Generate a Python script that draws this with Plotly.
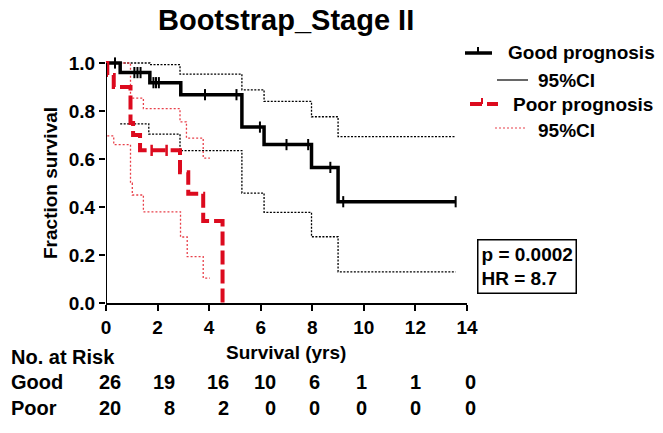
import numpy as np
import plotly.graph_objects as go

# ---------------- data ----------------
good_t = [0.0, 0.55, 1.70, 2.90, 5.27, 6.13, 7.97, 9.00]
good_s = [1.0, 0.960, 0.918, 0.868, 0.733, 0.660, 0.565, 0.422]
good_end = 13.56
good_cens = [0.35, 1.10, 1.22, 1.34, 1.84, 1.94, 2.05, 3.84, 5.06, 5.97, 7.00, 7.84, 8.70, 9.20, 13.56]

good_up_t = [0.55, 1.70, 2.87, 5.27, 6.13, 7.97, 9.00]
good_up_s = [1.0, 0.993, 0.954, 0.888, 0.840, 0.776, 0.693]
good_lo_t = [0.55, 1.66, 2.87, 5.27, 6.13, 7.97, 9.00]
good_lo_s = [0.746, 0.704, 0.635, 0.458, 0.378, 0.276, 0.130]

poor_t = [0.0, 0.05, 0.30, 0.95, 1.05, 1.32, 2.87, 3.19, 3.77, 4.52]
poor_s = [1.0, 0.95, 0.90, 0.75, 0.70, 0.636, 0.545, 0.455, 0.342, 0.0]
poor_cens = [1.77, 2.35]

poor_up_t = [0.05, 0.95, 1.45, 2.87, 3.12, 3.77]
poor_up_s = [1.0, 0.854, 0.810, 0.755, 0.687, 0.604]
poor_lo_t = [0.05, 0.30, 0.95, 1.02, 1.45, 2.89, 3.15, 3.77]
poor_lo_s = [0.696, 0.660, 0.500, 0.450, 0.380, 0.275, 0.193, 0.104]
poor_ci_end = 4.03

x_ticks = [0, 2, 4, 6, 8, 10, 12, 14]
y_ticks = [0.0, 0.2, 0.4, 0.6, 0.8, 1.0]
y_tick_labels = ["0.0", "0.2", "0.4", "0.6", "0.8", "1.0"]

risk_good = [26, 19, 16, 10, 6, 1, 1, 0]
risk_poor = [20, 8, 2, 0, 0, 0, 0, 0]

p_text = "p = 0.0002"
hr_text = "HR = 8.7"

# ---------------- layout geometry (pixels) ----------------
W, H = 663, 433
L, R_, T, B = 106, 467, 58, 303
FONT = "Liberation Sans, Arial, Helvetica, sans-serif"
RED = "#dc0a1e"
RED_CI = "#e8404a"


def px(x):
    return (x - L) / (R_ - L)


def py(y):
    return (B - y) / (B - T)


def extend(t, s, end):
    return list(t) + [end], list(s) + [s[-1]]


def level_at(t, s, tc):
    idx = np.searchsorted(np.array(t), np.array(tc), side="right") - 1
    return list(np.array(s)[idx])


fig = go.Figure()

ci_black = dict(color="black", width=1.3, dash="2px,1.5px")
ci_red = dict(color=RED_CI, width=1.3, dash="2px,2px")

for t, s, end, ln in [
    (good_up_t, good_up_s, good_end, ci_black),
    (good_lo_t, good_lo_s, good_end, ci_black),
    (poor_up_t, poor_up_s, poor_ci_end, ci_red),
    (poor_lo_t, poor_lo_s, poor_ci_end, ci_red),
]:
    xx, yy = extend(t, s, end)
    fig.add_trace(go.Scatter(x=xx, y=yy, mode="lines", line=dict(shape="hv", **ln),
                             hoverinfo="skip", showlegend=False))

# Good curve
gx, gy = extend(good_t, good_s, good_end)
fig.add_trace(go.Scatter(x=gx, y=gy, mode="lines", line=dict(shape="hv", color="black", width=3.5),
                         showlegend=False))
fig.add_trace(go.Scatter(x=good_cens, y=level_at(good_t, good_s, good_cens), mode="markers",
                         marker=dict(symbol="line-ns", size=8, line=dict(color="black", width=2)),
                         showlegend=False, cliponaxis=False))

# Poor curve
fig.add_trace(go.Scatter(x=poor_t, y=poor_s, mode="lines",
                         line=dict(shape="hv", color=RED, width=4, dash="14px,5px"),
                         showlegend=False))
fig.add_trace(go.Scatter(x=poor_cens, y=level_at(poor_t, poor_s, poor_cens), mode="markers",
                         marker=dict(symbol="line-ns", size=8, line=dict(color=RED, width=2.5)),
                         showlegend=False, cliponaxis=False))

shapes = []
annotations = []

# y axis line (only up to 1.0)
shapes.append(dict(type="line", xref="x", yref="y", x0=0, x1=0, y0=0, y1=1.0,
                   line=dict(color="black", width=2), layer="above"))

# legend samples
shapes += [
    dict(type="line", xref="paper", yref="paper", x0=px(465), x1=px(492), y0=py(53), y1=py(53),
         line=dict(color="black", width=3.5)),
    dict(type="line", xref="paper", yref="paper", x0=px(478), x1=px(478), y0=py(53), y1=py(47),
         line=dict(color="black", width=2)),
    dict(type="line", xref="paper", yref="paper", x0=px(497), x1=px(528), y0=py(80), y1=py(80),
         line=dict(color="black", width=1.2)),
    dict(type="line", xref="paper", yref="paper", x0=px(470), x1=px(498), y0=py(104), y1=py(104),
         line=dict(color=RED, width=4, dash="12px,5px")),
    dict(type="line", xref="paper", yref="paper", x0=px(482), x1=px(482), y0=py(104), y1=py(98),
         line=dict(color=RED, width=2)),
    dict(type="line", xref="paper", yref="paper", x0=px(495), x1=px(527), y0=py(128), y1=py(128),
         line=dict(color=RED_CI, width=1.2, dash="2px,2px")),
]


def ann(text, x, y, size=19, xanchor="left", **kw):
    d = dict(text=text, xref="paper", yref="paper", x=px(x), y=py(y), xanchor=xanchor,
             yanchor="middle", showarrow=False,
             font=dict(family=FONT, size=size, color="black", weight="bold"))
    d.update(kw)
    annotations.append(d)


ann("Good prognosis", 506, 53)
ann("95%CI", 536, 80)
ann("Poor prognosis", 511, 104)
ann("95%CI", 536, 130)

# p / HR box
annotations.append(dict(text=p_text + "<br>" + hr_text, xref="paper", yref="paper",
                        x=px(577), y=py(239), xanchor="right", yanchor="top", align="left",
                        showarrow=False, bordercolor="black", borderwidth=1.5, borderpad=3,
                        bgcolor="white",
                        font=dict(family=FONT, size=19, color="black", weight="bold")))

# axis titles
ann("Fraction survival", 50, 183, xanchor="center", textangle=-90)
ann("Survival (yrs)", 286, 352, xanchor="center")

# title
ann("Bootstrap_Stage II", 286, 20, size=29, xanchor="center")

# risk table
ann("No. at Risk", 9, 357, size=20)
ann("Good", 9, 382, size=20)
ann("Poor", 9, 408, size=20)
col_px = [123, 177, 231, 278, 322, 369, 423, 478]
for cx, g, p in zip(col_px, risk_good, risk_poor):
    ann(str(g), cx, 382, size=20, xanchor="right")
    ann(str(p), cx, 408, size=20, xanchor="right")

fig.update_layout(
    width=W, height=H,
    margin=dict(l=L, r=W - R_, t=T, b=H - B, pad=0, autoexpand=False),
    paper_bgcolor="white", plot_bgcolor="white",
    showlegend=False,
    shapes=shapes, annotations=annotations,
    xaxis=dict(range=[0, 14], tickvals=x_ticks, ticks="outside", ticklen=6, tickwidth=2,
               tickcolor="black", showline=True, linecolor="black", linewidth=2,
               showgrid=False, zeroline=False, automargin=False,
               tickfont=dict(family=FONT, size=19, color="black", weight="bold")),
    yaxis=dict(range=[0, (B - T) / 240.0], tickvals=y_ticks, ticktext=y_tick_labels,
               ticks="outside", ticklen=6, tickwidth=2, tickcolor="black", showline=False,
               showgrid=False, zeroline=False, automargin=False,
               tickfont=dict(family=FONT, size=19, color="black", weight="bold")),
)

fig.write_html("out.html", config={"displayModeBar": False},
               post_script="document.body.style.margin='0px';document.body.style.padding='0px';")
